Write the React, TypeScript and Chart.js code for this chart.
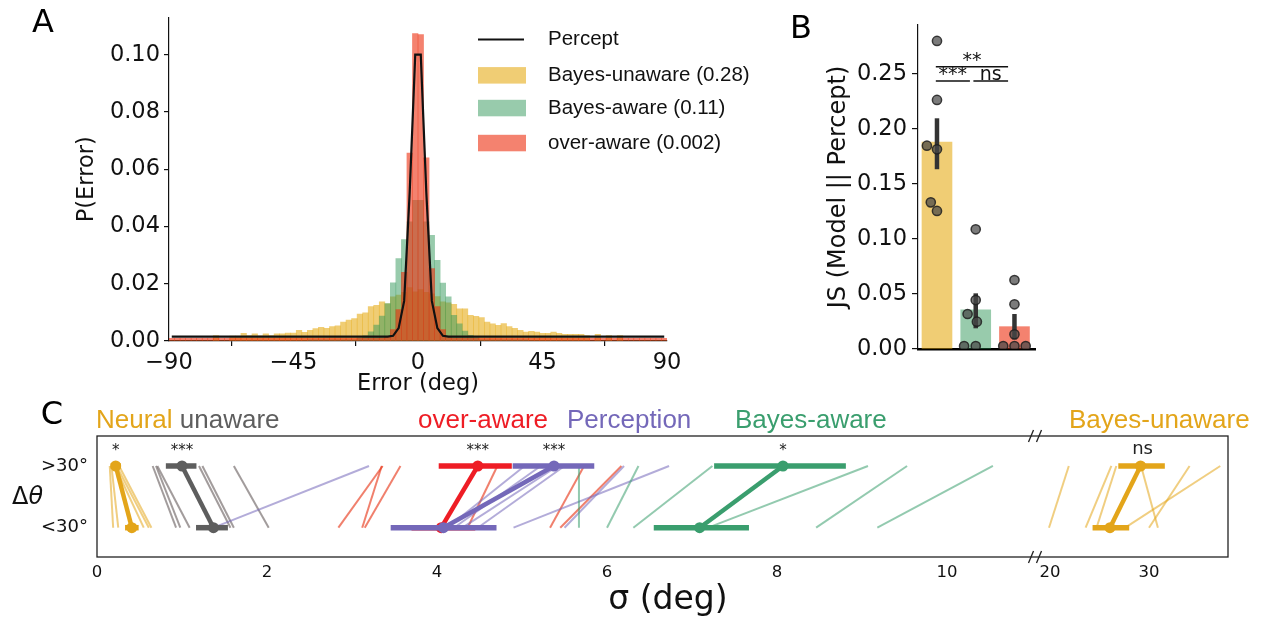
import React, { useEffect, useRef } from 'react';
import { Chart, registerables } from 'chart.js';

Chart.register(...registerables);

const SANS = "'DejaVu Sans', sans-serif";
const ARIAL = "'Liberation Sans', Arial, sans-serif";
const INK = '#111111';
Chart.defaults.font.family = SANS;

// ================= Panel A : error histograms =================
const errorBinCenters = [
  -89, -87, -85, -83, -81, -79, -77, -75, -73, -71,
  -69, -67, -65, -63, -61, -59, -57, -55, -53, -51,
  -49, -47, -45, -43, -41, -39, -37, -35, -33, -31,
  -29, -27, -25, -23, -21, -19, -17, -15, -13, -11,
  -9, -7, -5, -3, -1, 1, 3, 5, 7, 9,
  11, 13, 15, 17, 19, 21, 23, 25, 27, 29,
  31, 33, 35, 37, 39, 41, 43, 45, 47, 49,
  51, 53, 55, 57, 59, 61, 63, 65, 67, 69,
  71, 73, 75, 77, 79, 81, 83, 85, 87, 89,
];
const errorTicks = [-90, -45, 0, 45, 90];
const probTicks = [0, 0.02, 0.04, 0.06, 0.08, 0.1];

const perceptDensity = [
  0.0015, 0.0015, 0.0015, 0.0015, 0.0015, 0.0015, 0.0015, 0.0015, 0.0015, 0.0015,
  0.0015, 0.0015, 0.0015, 0.0015, 0.0015, 0.0015, 0.0015, 0.0015, 0.0015, 0.0015,
  0.0015, 0.0015, 0.0015, 0.0015, 0.0015, 0.0015, 0.0015, 0.0015, 0.0015, 0.0015,
  0.0015, 0.0015, 0.0015, 0.0015, 0.0015, 0.0015, 0.0015, 0.0015, 0.0015, 0.0015,
  0.0018, 0.0045, 0.014, 0.052, 0.1, 0.1, 0.052, 0.014, 0.0045, 0.0018,
  0.0015, 0.0015, 0.0015, 0.0015, 0.0015, 0.0015, 0.0015, 0.0015, 0.0015, 0.0015,
  0.0015, 0.0015, 0.0015, 0.0015, 0.0015, 0.0015, 0.0015, 0.0015, 0.0015, 0.0015,
  0.0015, 0.0015, 0.0015, 0.0015, 0.0015, 0.0015, 0.0015, 0.0015, 0.0015, 0.0015,
  0.0015, 0.0015, 0.0015, 0.0015, 0.0015, 0.0015, 0.0015, 0.0015, 0.0015, 0.0015,
];
const bayesUnawareDensity = [
  0, 0, 0, 0, 0, 0, 0, 0, 0.0019, 0,
  0, 0.0017, 0.0017, 0.0027, 0.0019, 0.0025, 0.0018, 0.0025, 0.0019, 0.0025,
  0.0025, 0.0028, 0.0028, 0.0037, 0.003, 0.0037, 0.0043, 0.0048, 0.0044, 0.005,
  0.0053, 0.0066, 0.0073, 0.0078, 0.0094, 0.0098, 0.012, 0.0125, 0.0137, 0.013,
  0.0154, 0.016, 0.017, 0.0187, 0.0172, 0.018, 0.017, 0.0165, 0.0155, 0.0137,
  0.0133, 0.0128, 0.0112, 0.0112, 0.009, 0.0086, 0.0082, 0.0066, 0.006, 0.0055,
  0.0061, 0.005, 0.0044, 0.0037, 0.0031, 0.0034, 0.0031, 0.0027, 0.0027, 0.0031,
  0.0027, 0.0023, 0.0023, 0.0023, 0.0023, 0.0019, 0, 0.0023, 0, 0.0019,
  0, 0.0019, 0, 0, 0, 0, 0, 0, 0, 0,
];
const bayesAwareDensity = [
  0, 0, 0, 0, 0, 0, 0, 0, 0, 0,
  0, 0, 0, 0, 0, 0, 0, 0, 0, 0,
  0, 0, 0, 0, 0, 0.0004, 0.0004, 0.0004, 0.0004, 0.0004,
  0.0004, 0.0004, 0.0004, 0.0004, 0.001, 0.0018, 0.0032, 0.0056, 0.0087, 0.0131,
  0.0203, 0.0288, 0.0354, 0.0416, 0.0491, 0.0491, 0.0416, 0.0369, 0.0282, 0.0202,
  0.0154, 0.009, 0.006, 0.0035, 0.002, 0.0011, 0.0004, 0.0004, 0.0004, 0.0004,
  0.0004, 0.0004, 0.0004, 0.0004, 0.0004, 0, 0, 0, 0, 0,
  0, 0, 0, 0, 0, 0, 0, 0, 0, 0,
  0, 0, 0, 0, 0, 0, 0, 0, 0, 0,
];
const overAwareDensity = [
  0.0009, 0.0009, 0.0009, 0.0009, 0.0009, 0.0009, 0.0009, 0.0009, 0.0009, 0.0009,
  0.0009, 0.0009, 0.0009, 0.0009, 0.0009, 0.0009, 0.0009, 0.0009, 0.0009, 0.0009,
  0.0009, 0.0009, 0.0009, 0.0009, 0.0009, 0.0009, 0.0009, 0.0009, 0.0009, 0.0009,
  0.0009, 0.0009, 0.0009, 0.0009, 0.0009, 0.0009, 0.0009, 0.0009, 0.0009, 0.0013,
  0.004, 0.011, 0.024, 0.0656, 0.1074, 0.107, 0.064, 0.0253, 0.012, 0.004,
  0.0012, 0.0009, 0.0009, 0.0009, 0.0009, 0.0009, 0.0009, 0.0009, 0.0009, 0.0009,
  0.0009, 0.0009, 0.0009, 0.0009, 0.0009, 0.0009, 0.0009, 0.0009, 0.0009, 0.0009,
  0.0009, 0.0009, 0.0009, 0.0009, 0.0009, 0.0009, 0.0009, 0.0009, 0.0009, 0.0009,
  0.0009, 0.0009, 0.0009, 0.0009, 0.0009, 0.0009, 0.0009, 0.0009, 0.0009, 0.0009,
];
const histLegendLabels = ['Percept', 'Bayes-unaware (0.28)', 'Bayes-aware (0.11)', 'over-aware (0.002)'];

// ================= Panel B : JS divergence =================
const jsModels = ['Bayes-unaware', 'Bayes-aware', 'over-aware'];
const jsMean = [0.188, 0.0355, 0.0203];
const jsCiLow = [0.1634, 0.0188, 0.0088];
const jsCiHigh = [0.2097, 0.0506, 0.0318];
const jsSubjectsUnaware = [0.28, 0.2264, 0.1848, 0.1815, 0.1333, 0.1255];
const jsSubjectsAware = [0.1088, 0.0445, 0.0318, 0.0248, 0.0027, 0.0027];
const jsSubjectsOver = [0.0627, 0.0406, 0.0133, 0.0027, 0.0027, 0.0027];
const jsTicks = [0, 0.05, 0.1, 0.15, 0.2, 0.25];
const jsSigLabels = ['***', 'ns', '**'];

// ================= Panel C : sigma per delta-theta =================
const sigmaTicksLeft = [0, 2, 4, 6, 8, 10];
const sigmaTicksRight = [20, 30];
const deltaThetaLabels = ['<30°', '>30°'];

const neuralAbove = [0.15, 0.17, 0.21, 0.23, 0.26];
const neuralBelow = [0.19, 0.25, 0.55, 0.61, 0.64];
const neuralMean = [0.22, 0.41];
const neuralErrAbove = [0.16, 0.28];
const neuralErrBelow = [0.33, 0.49];

const unawareAbove = [0.655, 0.694, 0.71, 1.2, 1.24, 1.61];
const unawareBelow = [0.93, 0.98, 1.09, 1.57, 1.61, 2.02];
const unawareMean = [1.0, 1.37];
const unawareErrAbove = [0.81, 1.17];
const unawareErrBelow = [1.165, 1.54];

const overAwareAbove = [3.36, 3.35, 3.57, 4.71, 5.73, 6.17];
const overAwareBelow = [2.84, 3.12, 3.15, 4.36, 5.33, 5.45];
const overAwareMean = [4.48, 4.05];
const overAwareErrAbove = [4.02, 4.88];
const overAwareErrBelow = [3.7, 4.45];

const perceptionAbove = [5.03, 5.22, 5.42, 5.5, 6.73, 6.2, 3.2];
const perceptionBelow = [4.12, 4.2, 4.3, 4.48, 4.9, 5.5, 1.37];
const perceptionMean = [5.376, 4.075];
const perceptionErrAbove = [4.89, 5.85];
const perceptionErrBelow = [3.455, 4.7];

const bayesAwareAbove = [5.67, 6.37, 7.24, 9.07, 9.53, 10.54];
const bayesAwareBelow = [5.67, 6.0, 6.31, 7.19, 8.46, 9.18];
const bayesAwareMean = [8.07, 7.09];
const bayesAwareErrAbove = [7.26, 8.81];
const bayesAwareErrBelow = [6.55, 7.67];

const bayesUnawareAbove = [21.9, 26.2, 26.7, 29.2, 34.1, 37.2];
const bayesUnawareBelow = [19.9, 23.6, 24.7, 30.9, 30.0, 27.6];
const bayesUnawareMean = [29.15, 26.06];
const bayesUnawareErrAbove = [26.9, 31.6];
const bayesUnawareErrBelow = [24.3, 28.0];

const cSignificance = ['*', '***', '***', '***', '*', 'ns'];

// ================= styles =================
const HIST_UNAWARE = 'rgba(230,172,23,0.6)';
const HIST_AWARE = 'rgba(49,151,89,0.5)';
const HIST_OVER = 'rgba(237,47,15,0.6)';
const GOLD = '#e3a51a';
const GRAY = '#5e5e5e';
const RED = '#ee1d25';
const PURPLE = '#7468b9';
const GREEN = '#3a9e6e';

const tickFont = { family: SANS, size: 22.5 };

function makeConfigA(): any {
  const pts = (vals: number[]) => errorBinCenters.map((x, i) => ({ x, y: vals[i] }));
  const barBase = { type: 'bar', grouped: false, barPercentage: 1, categoryPercentage: 1, borderWidth: 0 };
  const legendPlugin = {
    id: 'panelA',
    afterDraw(chart: any) {
      const { ctx } = chart;
      ctx.save();
      ctx.fillStyle = '#000';
      ctx.font = `32px ${SANS}`;
      ctx.textAlign = 'center';
      ctx.textBaseline = 'alphabetic';
      ctx.fillText('A', 43, 31.5);
      const lx = 478, lw = 48, tx = 548;
      const rows = [39.5, 75.3, 108, 143];
      ctx.strokeStyle = INK;
      ctx.lineWidth = 2.2;
      ctx.beginPath();
      ctx.moveTo(lx, rows[0]);
      ctx.lineTo(lx + lw - 2, rows[0]);
      ctx.stroke();
      [HIST_UNAWARE, HIST_AWARE, HIST_OVER].forEach((c, k) => {
        ctx.fillStyle = c;
        ctx.fillRect(lx, rows[k + 1] - 8.2, lw, 16.5);
      });
      ctx.fillStyle = INK;
      ctx.font = `20.5px ${ARIAL}`;
      ctx.textAlign = 'left';
      ctx.textBaseline = 'middle';
      histLegendLabels.forEach((t, k) => ctx.fillText(t, tx, rows[k]));
      ctx.restore();
    },
  };
  return {
    type: 'bar',
    data: {
      datasets: [
        { type: 'line', label: histLegendLabels[0], data: pts(perceptDensity), borderColor: INK, borderWidth: 2.2, pointRadius: 0, tension: 0, order: 0 },
        { ...barBase, label: histLegendLabels[3], data: pts(overAwareDensity), backgroundColor: HIST_OVER, order: 1 },
        { ...barBase, label: histLegendLabels[2], data: pts(bayesAwareDensity), backgroundColor: HIST_AWARE, order: 2 },
        { ...barBase, label: histLegendLabels[1], data: pts(bayesUnawareDensity), backgroundColor: HIST_UNAWARE, order: 3 },
      ],
    },
    options: {
      responsive: false,
      animation: false,
      layout: { padding: { left: 74, top: 17, right: 103, bottom: 0 } },
      plugins: { legend: { display: false }, tooltip: { enabled: false } },
      scales: {
        x: {
          type: 'linear', min: -90, max: 90, offset: false,
          grid: { display: true, drawOnChartArea: false, drawTicks: true, tickLength: 5, color: INK, lineWidth: 1.2 },
          border: { display: true, color: INK, width: 1.2 },
          ticks: { font: tickFont, color: INK, padding: 4, maxRotation: 0, autoSkip: false, callback: (v: number) => (v < 0 ? '\u2212' + Math.abs(v) : String(v)) },
          afterBuildTicks: (s: any) => { s.ticks = errorTicks.map((v) => ({ value: v })); },
          title: { display: true, text: 'Error (deg)', font: tickFont, color: INK, padding: { top: 0, bottom: 2 } },
          afterFit: (s: any) => { s.height = 59; },
        },
        y: {
          type: 'linear', min: 0, max: 0.113,
          grid: { display: true, drawOnChartArea: false, drawTicks: true, tickLength: 5, color: INK, lineWidth: 1.2 },
          border: { display: true, color: INK, width: 1.2 },
          ticks: { font: tickFont, color: INK, padding: 4, callback: (v: number) => v.toFixed(2) },
          afterBuildTicks: (s: any) => { s.ticks = probTicks.map((v) => ({ value: v })); },
          title: { display: true, text: 'P(Error)', font: tickFont, color: INK, padding: { top: 0, bottom: 0 } },
          afterFit: (s: any) => { s.width = 95; },
        },
      },
    },
    plugins: [legendPlugin],
  };
}

function makeConfigB(): any {
  const subjects = [jsSubjectsUnaware, jsSubjectsAware, jsSubjectsOver];
  const swarmJitter = [
    [0, 0, -0.26, 0, -0.16, 0],
    [0, 0, -0.21, 0.03, -0.3, 0],
    [0, 0, 0, -0.29, 0, 0.29],
  ];
  const barColors = [HIST_UNAWARE, HIST_AWARE, HIST_OVER];
  const sigPlugin = {
    id: 'panelB',
    afterDraw(chart: any) {
      const { ctx, scales } = chart;
      const xs = scales.x, ys = scales.y;
      ctx.save();
      ctx.fillStyle = '#000';
      ctx.font = `32px ${SANS}`;
      ctx.textAlign = 'center';
      ctx.textBaseline = 'alphabetic';
      ctx.fillText('B', 21, 38);
      const spans = [
        { a: -0.03, b: 0.85, y: 0.2436, label: jsSigLabels[0] },
        { a: 0.94, b: 1.835, y: 0.2436, label: jsSigLabels[1] },
        { a: -0.03, b: 1.835, y: 0.2566, label: jsSigLabels[2] },
      ];
      ctx.strokeStyle = INK;
      ctx.fillStyle = INK;
      ctx.lineWidth = 1.5;
      ctx.font = `19px ${SANS}`;
      spans.forEach((s) => {
        const x1 = xs.getPixelForValue(s.a), x2 = xs.getPixelForValue(s.b), yy = ys.getPixelForValue(s.y);
        ctx.beginPath();
        ctx.moveTo(x1, yy);
        ctx.lineTo(x2, yy);
        ctx.stroke();
        ctx.fillText(s.label, (x1 + x2) / 2, yy - 1);
      });
      ctx.restore();
    },
  };
  const datasets: any[] = [];
  subjects.forEach((arr, k) => {
    datasets.push({
      type: 'scatter', label: jsModels[k] + ' subjects',
      data: arr.map((v, i) => ({ x: k + swarmJitter[k][i], y: v })),
      pointRadius: 4.6, pointBackgroundColor: 'rgba(72,72,72,0.72)', pointBorderColor: 'rgba(30,30,30,0.85)', pointBorderWidth: 1.5, order: 0,
    });
  });
  jsMean.forEach((_, k) => {
    datasets.push({
      type: 'line', label: jsModels[k] + ' CI',
      data: [{ x: k, y: jsCiLow[k] }, { x: k, y: jsCiHigh[k] }],
      borderColor: '#333333', borderWidth: 4.5, pointRadius: 0, order: 1,
    });
  });
  datasets.push({
    type: 'bar', label: 'JS',
    data: jsMean.map((v, k) => ({ x: k, y: v })),
    backgroundColor: barColors, barThickness: 30, borderWidth: 0, order: 2,
  });
  return {
    type: 'bar',
    data: { datasets },
    options: {
      responsive: false,
      animation: false,
      layout: { padding: { left: 44, top: 25, right: 26, bottom: 0 } },
      plugins: { legend: { display: false }, tooltip: { enabled: false } },
      scales: {
        x: {
          type: 'linear', min: -0.49, max: 2.53, offset: false,
          grid: { display: false, drawTicks: false },
          border: { display: true, color: '#000', width: 2.5 },
          ticks: { display: false },
          afterFit: (s: any) => { s.height = 51; },
        },
        y: {
          type: 'linear', min: 0, max: 0.2945,
          grid: { display: true, drawOnChartArea: false, drawTicks: true, tickLength: 6, color: INK, lineWidth: 1.2 },
          border: { display: true, color: INK, width: 1.2 },
          ticks: { font: tickFont, color: INK, padding: 5, callback: (v: number) => v.toFixed(2) },
          afterBuildTicks: (s: any) => { s.ticks = jsTicks.map((v) => ({ value: v })); },
          title: { display: true, text: 'JS (Model || Percept)', font: { family: SANS, size: 24 }, color: INK, padding: { top: 0, bottom: 0 } },
          afterFit: (s: any) => { s.width = 94; },
        },
      },
    },
    plugins: [sigPlugin],
  };
}

function makeConfigC(): any {
  const groups = [
    { above: neuralAbove, below: neuralBelow, mean: neuralMean, errA: neuralErrAbove, errB: neuralErrBelow, color: GOLD, thin: 'rgba(227,165,26,0.55)', axis: 'x' },
    { above: unawareAbove, below: unawareBelow, mean: unawareMean, errA: unawareErrAbove, errB: unawareErrBelow, color: GRAY, thin: 'rgba(100,90,90,0.6)', axis: 'x' },
    { above: overAwareAbove, below: overAwareBelow, mean: overAwareMean, errA: overAwareErrAbove, errB: overAwareErrBelow, color: RED, thin: 'rgba(232,60,30,0.65)', axis: 'x' },
    { above: perceptionAbove, below: perceptionBelow, mean: perceptionMean, errA: perceptionErrAbove, errB: perceptionErrBelow, color: PURPLE, thin: 'rgba(116,104,185,0.55)', axis: 'x' },
    { above: bayesAwareAbove, below: bayesAwareBelow, mean: bayesAwareMean, errA: bayesAwareErrAbove, errB: bayesAwareErrBelow, color: GREEN, thin: 'rgba(58,158,110,0.55)', axis: 'x' },
    { above: bayesUnawareAbove, below: bayesUnawareBelow, mean: bayesUnawareMean, errA: bayesUnawareErrAbove, errB: bayesUnawareErrBelow, color: GOLD, thin: 'rgba(227,165,26,0.55)', axis: 'x2' },
  ];
  const ds: any[] = [];
  groups.forEach((g) => g.above.forEach((a, i) => {
    ds.push({ data: [{ x: a, y: 1 }, { x: g.below[i], y: 0 }], xAxisID: g.axis, borderColor: g.thin, borderWidth: 2, pointRadius: 0 });
  }));
  groups.forEach((g) => {
    ds.push({ data: [{ x: g.errA[0], y: 1 }, { x: g.errA[1], y: 1 }], xAxisID: g.axis, borderColor: g.color, borderWidth: 5.5, pointRadius: 0, borderCapStyle: 'butt' });
    ds.push({ data: [{ x: g.errB[0], y: 0 }, { x: g.errB[1], y: 0 }], xAxisID: g.axis, borderColor: g.color, borderWidth: 5.5, pointRadius: 0, borderCapStyle: 'butt' });
    ds.push({ data: [{ x: g.mean[0], y: 1 }, { x: g.mean[1], y: 0 }], xAxisID: g.axis, borderColor: g.color, borderWidth: 4.5, pointRadius: 5.5, pointBackgroundColor: g.color, pointBorderWidth: 0 });
  });
  ds.forEach((d, i) => { d.order = -i; d.tension = 0; });

  const annot = {
    id: 'panelC',
    afterDraw(chart: any) {
      const { ctx, chartArea: ca, scales } = chart;
      ctx.save();
      // frame
      ctx.strokeStyle = '#222';
      ctx.lineWidth = 1.3;
      ctx.strokeRect(ca.left, ca.top, ca.right - ca.left, ca.bottom - ca.top);
      // axis break marks
      const xb = scales.x.right;
      ctx.lineWidth = 1.3;
      [ca.top, ca.bottom].forEach((yy: number) => {
        [xb - 4, xb + 4].forEach((mx) => {
          ctx.beginPath();
          ctx.moveTo(mx - 2.5, yy + 6);
          ctx.lineTo(mx + 2.5, yy - 6);
          ctx.stroke();
        });
      });
      // panel letter
      ctx.fillStyle = '#000';
      ctx.font = `32px ${SANS}`;
      ctx.textAlign = 'center';
      ctx.textBaseline = 'alphabetic';
      ctx.fillText('C', 52, 29);
      // group titles
      ctx.font = `26px ${ARIAL}`;
      ctx.textAlign = 'left';
      const titles: [string, string, number][] = [
        ['over-aware', RED, 418], ['Perception', PURPLE, 567], ['Bayes-aware', GREEN, 735], ['Bayes-unaware', GOLD, 1069],
      ];
      ctx.fillStyle = GOLD;
      ctx.fillText('Neural', 96, 33);
      const w = ctx.measureText('Neural ').width;
      ctx.fillStyle = GRAY;
      ctx.fillText('unaware', 96 + w, 33);
      titles.forEach(([t, c, x]) => { ctx.fillStyle = c; ctx.fillText(t, x, 33); });
      // significance marks
      ctx.fillStyle = '#222';
      ctx.textAlign = 'center';
      groups.forEach((g, k) => {
        const px = scales[g.axis].getPixelForValue(g.mean[0]);
        const label = cSignificance[k];
        if (label === 'ns') {
          ctx.font = `18px ${SANS}`;
          ctx.fillText(label, px + 2, 59);
        } else {
          ctx.font = `15px ${SANS}`;
          ctx.fillText(label, px, 60);
        }
      });
      // axis labels
      ctx.fillStyle = INK;
      ctx.font = `33px ${SANS}`;
      ctx.textBaseline = 'middle';
      ctx.fillText('σ (deg)', 668, 205);
      ctx.textAlign = 'left';
      ctx.textBaseline = 'alphabetic';
      ctx.font = `24px ${SANS}`;
      ctx.fillText('Δ', 12, 109);
      const dw = ctx.measureText('Δ').width;
      ctx.font = `italic 24px ${SANS}`;
      ctx.fillText('θ', 12 + dw, 109);
      ctx.restore();
    },
  };

  const xTickFont = { family: SANS, size: 16.5 };
  return {
    type: 'line',
    data: { datasets: ds },
    options: {
      responsive: false,
      animation: false,
      layout: { padding: { left: 0, top: 41, right: 33, bottom: 0 } },
      plugins: { legend: { display: false }, tooltip: { enabled: false } },
      scales: {
        x: {
          type: 'linear', axis: 'x', position: 'bottom', stack: 'sigma', stackWeight: 938, min: 0, max: 11.035, offset: false,
          grid: { display: false, drawTicks: false },
          border: { display: false },
          ticks: { font: xTickFont, color: INK, padding: 6, maxRotation: 0, autoSkip: false },
          afterBuildTicks: (s: any) => { s.ticks = sigmaTicksLeft.map((v) => ({ value: v })); },
          afterFit: (s: any) => { s.height = 63; },
        },
        x2: {
          type: 'linear', axis: 'x', position: 'bottom', stack: 'sigma', stackWeight: 193, min: 18.485, max: 37.98, offset: false,
          grid: { display: false, drawTicks: false },
          border: { display: false },
          ticks: { font: xTickFont, color: INK, padding: 6, maxRotation: 0, autoSkip: false },
          afterBuildTicks: (s: any) => { s.ticks = sigmaTicksRight.map((v) => ({ value: v })); },
          afterFit: (s: any) => { s.height = 63; },
        },
        y: {
          type: 'linear', min: -0.475, max: 1.486,
          grid: { display: false, drawTicks: false },
          border: { display: false },
          ticks: { font: { family: SANS, size: 18 }, color: INK, padding: 9, callback: (v: number) => deltaThetaLabels[v] },
          afterBuildTicks: (s: any) => { s.ticks = [0, 1].map((v) => ({ value: v })); },
          afterFit: (s: any) => { s.width = 97; },
        },
      },
    },
    plugins: [annot],
  };
}

export default function App() {
  const aRef = useRef<HTMLCanvasElement>(null);
  const bRef = useRef<HTMLCanvasElement>(null);
  const cRef = useRef<HTMLCanvasElement>(null);
  useEffect(() => {
    const charts = [
      new Chart(aRef.current as HTMLCanvasElement, makeConfigA()),
      new Chart(bRef.current as HTMLCanvasElement, makeConfigB()),
      new Chart(cRef.current as HTMLCanvasElement, makeConfigC()),
    ];
    return () => charts.forEach((c) => c.destroy());
  }, []);
  return (
    <div style={{ position: 'fixed', left: 0, top: 0, width: 1261, height: 620, background: '#fff', overflow: 'hidden' }}>
      <canvas ref={aRef} width={770} height={400} style={{ position: 'absolute', left: 0, top: 0, width: 770, height: 400 }} />
      <canvas ref={bRef} width={281} height={400} style={{ position: 'absolute', left: 780, top: 0, width: 281, height: 400 }} />
      <canvas ref={cRef} width={1261} height={225} style={{ position: 'absolute', left: 0, top: 395, width: 1261, height: 225 }} />
    </div>
  );
}
